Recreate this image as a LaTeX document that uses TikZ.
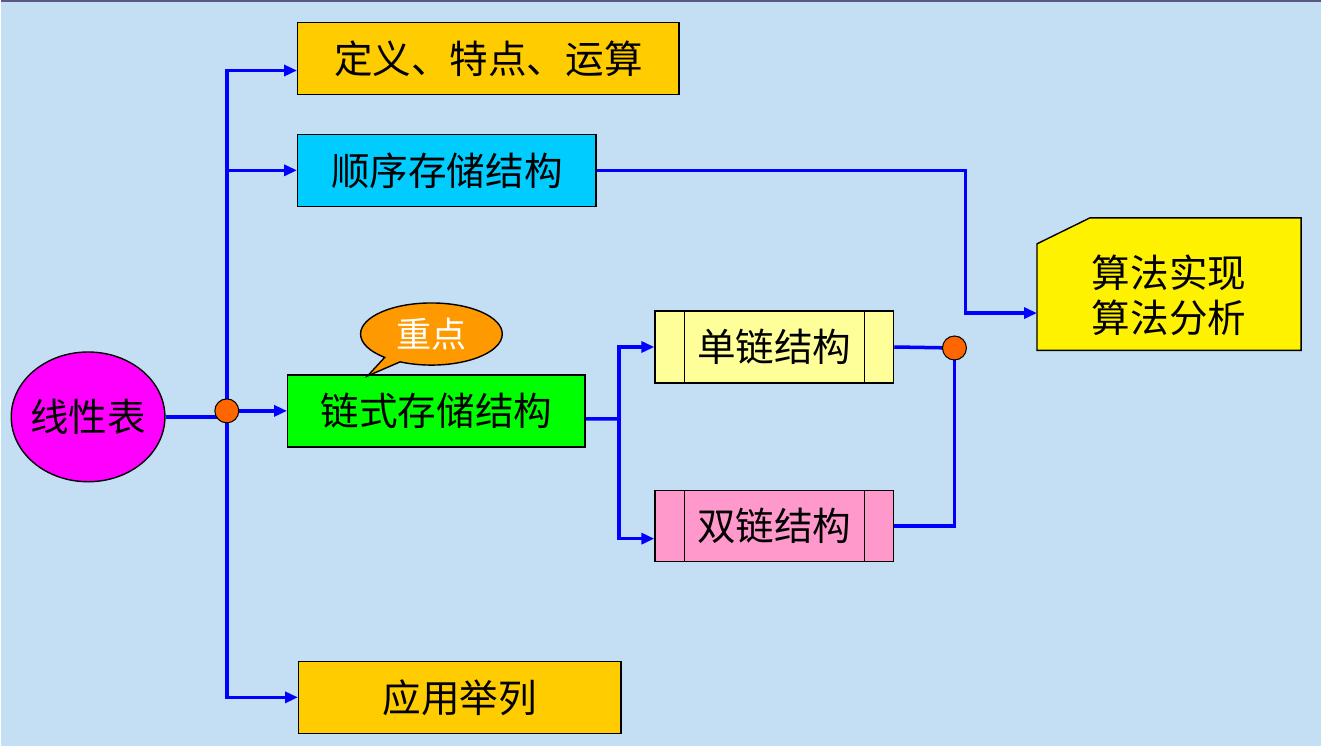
\documentclass[tikz,border=0pt]{standalone}
\usepackage{fontspec}
\setmainfont{Noto Sans CJK SC}
\usetikzlibrary{arrows.meta, shapes.geometric, shapes.callouts}
\definecolor{bgblue}{RGB}{196,222,244}
\definecolor{topline}{RGB}{88,88,132}
\definecolor{gold}{RGB}{255,204,0}
\definecolor{skyblue}{RGB}{0,204,255}
\definecolor{palegold}{RGB}{255,255,153}
\definecolor{rosepink}{RGB}{255,153,204}
\definecolor{keyorange}{RGB}{255,153,0}
\definecolor{dotorange}{RGB}{255,102,0}
\definecolor{listpink}{RGB}{255,0,255}

\begin{document}
\begin{tikzpicture}[x=0.02cm, y=-0.02cm,
    every node/.style={font=\fontsize{22}{26}\selectfont},
    box/.style={draw=black, line width=0.8pt, minimum height=1.44cm, inner sep=0pt},
    link/.style={blue, line width=2pt},
    arr/.style={link, -{Triangle[length=0.26cm, width=0.22cm]}},
    dot/.style={fill=dotorange, draw=black, line width=0.6pt}]
    \fill[bgblue] (0,0) rectangle (1322,747);
    \draw[topline, line width=1.4pt] (0,0.6) -- (1322,0.6);
    \useasboundingbox (0,0) rectangle (1322,747);

    \coordinate (hub) at (226,411);
    \coordinate (split) at (619,419);
    \coordinate (join) at (955,348);
    \coordinate (bend) at (966,313);

    \node[ellipse, draw=black, line width=0.8pt, fill=listpink, minimum width=3.08cm, minimum height=2.6cm, inner xsep=-0.12cm, inner ysep=0pt] (list) at (87,417) {线性表};
    \node[box, fill=gold, minimum width=7.64cm] (def) at (488,58) {定义、特点、运算};
    \node[box, fill=skyblue, minimum width=5.98cm] (seq) at (446.5,170) {顺序存储结构};
    \node[box, fill=green, minimum width=5.96cm] (chain) at (436,411) {链式存储结构};
    \node[box, fill=gold, minimum width=6.46cm] (app) at (459.5,698) {应用举列};
    \node[box, fill=palegold, minimum width=4.78cm] (single) at (774.5,347) {单链结构};
    \node[box, fill=rosepink, minimum width=4.78cm, minimum height=1.42cm] (double) at (774.5,526.5) {双链结构};

    \foreach \b in {single,double} {
        \draw[line width=0.8pt] ([xshift=0.6cm]\b.north west) -- ([xshift=0.6cm]\b.south west);
        \draw[line width=0.8pt] ([xshift=-0.6cm]\b.north east) -- ([xshift=-0.6cm]\b.south east);
    }

    \node[minimum width=5.28cm, minimum height=2.64cm, inner sep=0pt] (algo) at (1170,284) {};
    \filldraw[fill=yellow, draw=black, line width=0.8pt] (algo.south west) -- ([yshift=-0.52cm]algo.north west) -- ([xshift=1.06cm]algo.north west) -- (algo.north east) -- (algo.south east) -- cycle;
    \node[align=center] (algotext) at (1170,295) {算法实现\\算法分析};

    \node[ellipse callout, draw=black, line width=0.8pt, fill=keyorange, text=white, font=\fontsize{20}{24}\selectfont, minimum width=2.84cm, minimum height=1.2cm, callout absolute pointer={(367,376)}] (key) at (431,334) {重点};

    \draw[link] (list.east) -- (list.east -| hub);
    \draw[arr] (hub) |- ([yshift=-0.24cm]def.west);
    \draw[arr] (hub) |- (seq.west);
    \draw[arr] (hub) |- (app.west);
    \draw[arr] (hub) -- (chain.west);

    \draw[link] ([yshift=-0.16cm]chain.east) -- (split);
    \draw[arr] (split) |- (single.west);
    \draw[arr] (split) |- ([yshift=-0.25cm]double.west);

    \draw[link] (single.east) -- (join);
    \draw[link] (join) |- (double.east);

    \draw[arr] (seq.east) -| (bend) -- (bend -| algo.west);

    \foreach \p in {hub,join}
    \filldraw[dot] (\p) circle (0.24cm);
\end{tikzpicture}
\end{document}
